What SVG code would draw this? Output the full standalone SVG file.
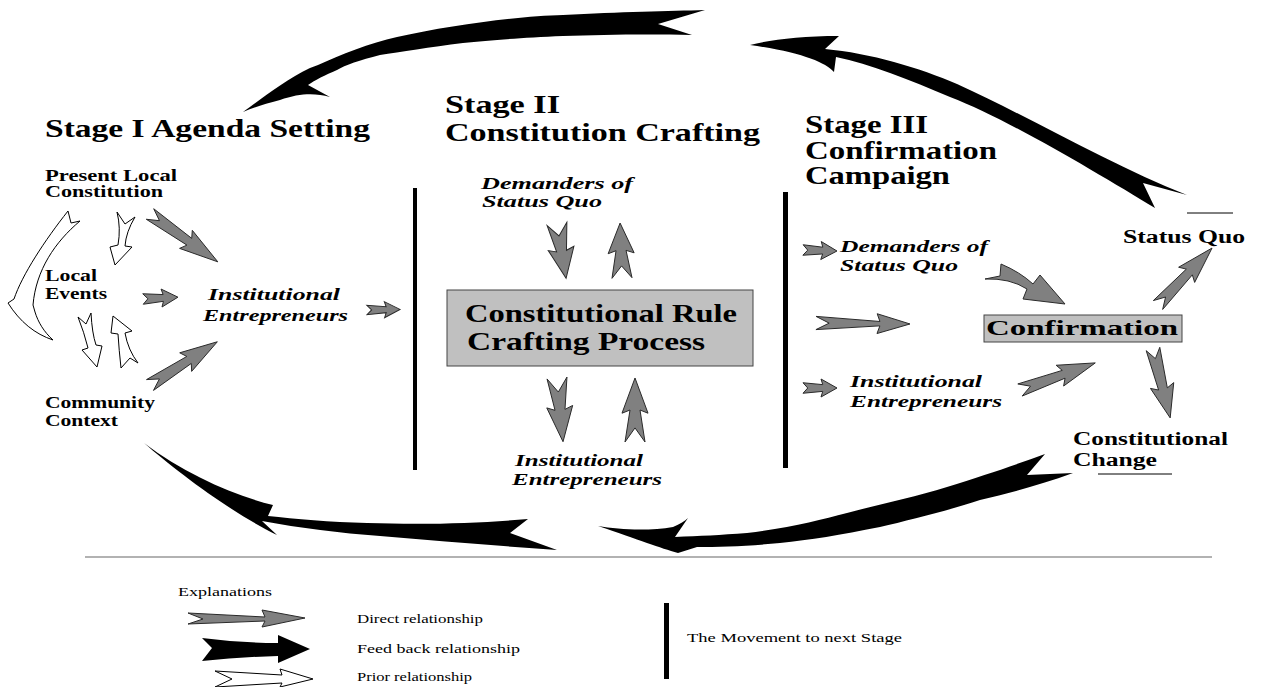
<svg xmlns="http://www.w3.org/2000/svg" xmlns:xlink="http://www.w3.org/1999/xlink" width="1264" height="687" viewBox="0 0 1264 687">
  <style>
    .bold { font-family: "Liberation Serif", "Times New Roman", serif; font-weight: bold; fill: #000; }
    .ital { font-family: "Liberation Serif", "Times New Roman", serif; font-weight: bold; font-style: italic; fill: #000; }
    .reg  { font-family: "Liberation Serif", "Times New Roman", serif; fill: #000; }
    .direct { fill: #808080; stroke: #2a2a2a; stroke-width: 1; stroke-linejoin: miter; }
    .prior { fill: #fff; stroke: #000; stroke-width: 1; }
    .feedback { fill: #000; stroke: none; }
    .bar { fill: #000; }
    .box { fill: #c0c0c0; stroke: #444; stroke-width: 1; }
  </style>
  <defs>
    <!-- direct relationship arrow, tail at x=0, tip at x=100 -->
    <path id="ga" class="direct" vector-effect="non-scaling-stroke" d="M0,-7 L14,0 L0,7 L58,4.5 L53,12 L100,0 L53,-12 L58,-4.5 Z"/>
    <!-- short stubby variant with a wide tail -->
    <path id="gb" class="direct" vector-effect="non-scaling-stroke" d="M0,-10 L22,0 L0,10 L50,5 L45,13 L100,0 L45,-13 L50,-5 Z"/>
    <!-- long thin variant -->
    <path id="gl" class="direct" vector-effect="non-scaling-stroke" d="M0,-6 L14,0 L0,6 L68,2 L65,9 L100,0 L65,-9 L68,-2 Z"/>
  </defs>

  <rect width="1264" height="687" fill="#fff"/>

  <!-- stage headings -->
  <g id="stage1">
    <text class="bold" font-size="25" x="45" y="137" textLength="325" lengthAdjust="spacingAndGlyphs">Stage I Agenda Setting</text>
  </g>
  <g id="stage2">
    <text class="bold" font-size="25" x="445" y="113" textLength="115" lengthAdjust="spacingAndGlyphs">Stage II</text>
    <text class="bold" font-size="25" x="445" y="141" textLength="315" lengthAdjust="spacingAndGlyphs">Constitution Crafting</text>
  </g>
  <g id="stage3">
    <text class="bold" font-size="25" x="805" y="133" textLength="123" lengthAdjust="spacingAndGlyphs">Stage III</text>
    <text class="bold" font-size="25" x="805" y="159" textLength="192" lengthAdjust="spacingAndGlyphs">Confirmation</text>
    <text class="bold" font-size="25" x="805" y="184" textLength="145" lengthAdjust="spacingAndGlyphs">Campaign</text>
  </g>

  <!-- Stage I nodes -->
  <g id="present-local-constitution">
    <text class="bold" font-size="16" x="45" y="181" textLength="132" lengthAdjust="spacingAndGlyphs">Present Local</text>
    <text class="bold" font-size="16" x="45" y="197" textLength="118" lengthAdjust="spacingAndGlyphs">Constitution</text>
  </g>
  <g id="local-events">
    <text class="bold" font-size="16" x="45" y="281" textLength="52" lengthAdjust="spacingAndGlyphs">Local</text>
    <text class="bold" font-size="16" x="45" y="299" textLength="62" lengthAdjust="spacingAndGlyphs">Events</text>
  </g>
  <g id="community-context">
    <text class="bold" font-size="16" x="45" y="408" textLength="110" lengthAdjust="spacingAndGlyphs">Community</text>
    <text class="bold" font-size="16" x="45" y="426" textLength="73" lengthAdjust="spacingAndGlyphs">Context</text>
  </g>
  <g id="entrepreneurs-1">
    <text class="ital" font-size="17" x="208" y="300" textLength="132" lengthAdjust="spacingAndGlyphs">Institutional</text>
    <text class="ital" font-size="17" x="203" y="321" textLength="145" lengthAdjust="spacingAndGlyphs">Entrepreneurs</text>
  </g>

  <!-- Stage II nodes -->
  <g id="demanders-2">
    <text class="ital" font-size="17" x="481" y="189" textLength="152" lengthAdjust="spacingAndGlyphs">Demanders of</text>
    <text class="ital" font-size="17" x="482" y="207" textLength="120" lengthAdjust="spacingAndGlyphs">Status Quo</text>
  </g>
  <g id="rule-crafting">
    <rect class="box" x="447" y="290" width="306" height="76"/>
    <text class="bold" font-size="26" x="465" y="322" textLength="272" lengthAdjust="spacingAndGlyphs">Constitutional Rule</text>
    <text class="bold" font-size="26" x="467" y="350" textLength="238" lengthAdjust="spacingAndGlyphs">Crafting Process</text>
  </g>
  <g id="entrepreneurs-2">
    <text class="ital" font-size="17" x="515" y="466" textLength="128" lengthAdjust="spacingAndGlyphs">Institutional</text>
    <text class="ital" font-size="17" x="512" y="485" textLength="150" lengthAdjust="spacingAndGlyphs">Entrepreneurs</text>
  </g>

  <!-- Stage III nodes -->
  <g id="demanders-3">
    <text class="ital" font-size="17" x="840" y="252" textLength="148" lengthAdjust="spacingAndGlyphs">Demanders of</text>
    <text class="ital" font-size="17" x="840" y="271" textLength="118" lengthAdjust="spacingAndGlyphs">Status Quo</text>
  </g>
  <g id="entrepreneurs-3">
    <text class="ital" font-size="17" x="850" y="387" textLength="132" lengthAdjust="spacingAndGlyphs">Institutional</text>
    <text class="ital" font-size="17" x="850" y="407" textLength="152" lengthAdjust="spacingAndGlyphs">Entrepreneurs</text>
  </g>
  <g id="confirmation">
    <rect class="box" x="984" y="315" width="198" height="27" stroke="#222" stroke-width="1.5"/>
    <text class="bold" font-size="20" x="986" y="335" textLength="192" lengthAdjust="spacingAndGlyphs">Confirmation</text>
  </g>
  <g id="status-quo">
    <line x1="1187" y1="213" x2="1233" y2="213" stroke="#000" stroke-width="1"/>
    <text class="bold" font-size="18" x="1123" y="243" textLength="122" lengthAdjust="spacingAndGlyphs">Status Quo</text>
  </g>
  <g id="constitutional-change">
    <text class="bold" font-size="18" x="1073" y="445" textLength="155" lengthAdjust="spacingAndGlyphs">Constitutional</text>
    <text class="bold" font-size="18" x="1073" y="466" textLength="84" lengthAdjust="spacingAndGlyphs">Change</text>
    <line x1="1098" y1="474" x2="1172" y2="474" stroke="#000" stroke-width="1"/>
  </g>

  <!-- stage boundaries -->
  <g id="stage-bars">
    <rect class="bar" x="413" y="188" width="4" height="282"/>
    <rect class="bar" x="783" y="192" width="5" height="276"/>
  </g>

  <g id="connectors">
    <!-- prior relationships -->
    <path class="prior" d="M68,211 C45,240 22,275 14,299 L8,303 C20,322 35,334 53,340 C44,332 38,322 35,312 L33,305 C36,270 55,242 80,221 L71,223 Z"/>
    <path class="prior" d="M117,212 L125,224 L135,217 Q126,232 125,246 L132,247 L115,265 L110,247 L118,245 Q121,228 117,212 Z"/>
    <path class="prior" d="M78,317 L86,324 L91,313 Q92,333 96,345 L102,346 L97,367 L82,350 L88,348 Q84,332 78,317 Z"/>
    <path class="prior" d="M113,316 L132,331 L125,333 Q128,350 138,363 L130,358 L121,368 Q119,350 118,334 L111,333 Z"/>

    <!-- direct relationships, Stage I -->
    <use href="#ga" transform="translate(150,214) rotate(35.2) scale(0.83,0.92)"/>
    <use href="#ga" transform="translate(143,299) rotate(-3) scale(0.35,0.75)"/>
    <use href="#ga" transform="translate(150,385) rotate(-32.7) scale(0.80,0.92)"/>
    <use href="#ga" transform="translate(367,310) rotate(-1) scale(0.33,0.67)"/>

    <!-- direct relationships, Stage II -->
    <use href="#gb" transform="translate(557,224) rotate(80.5) scale(0.55,1)"/>
    <use href="#gb" transform="translate(622,278) rotate(-92) scale(0.55,1)"/>
    <use href="#gb" transform="translate(557,378) rotate(84.6) scale(0.64,1)"/>
    <use href="#gb" transform="translate(635,442) rotate(-90) scale(0.64,1)"/>

    <!-- direct relationships, Stage III -->
    <use href="#ga" transform="translate(803,250) rotate(1.7) scale(0.34,0.75)"/>
    <use href="#gl" transform="translate(816,323) rotate(0.6) scale(0.94,1.1)"/>
    <use href="#ga" transform="translate(803,388) scale(0.34,0.75)"/>
    <path class="direct" d="M985,279 Q1010,278 1027,289 L1023,299 L1065,304 L1040,275 L1033,284 Q1020,272 1001,264 L1000,276 Z"/>
    <use href="#ga" transform="translate(1020,390) rotate(-19.8) scale(0.80,0.92)"/>
    <use href="#ga" transform="translate(1158,305) rotate(-46.5) scale(0.785,0.92)"/>
    <use href="#ga" transform="translate(1153,349) rotate(76) scale(0.71,1)"/>

    <!-- feedback relationships -->
    <path class="feedback" d="M243,112 C260,100 285,80 310,68 L318,65 C340,55 370,43 397,37 C450,25 520,16 563,15 C620,12 670,11 705,10 L658,24 L692,35 C640,34 600,35 563,36 C520,38 490,40 463,43 C430,47 400,52 380,55 C360,60 345,65 337,70 C325,75 315,80 308,85 L330,97 C315,93 300,93 280,100 C265,104 255,107 243,112 Z"/>
    <path class="feedback" d="M750,45 C770,40 800,36 839,36 L825,49 C870,53 920,68 957,84 C1030,117 1110,165 1187,195 L1143,183 L1155,208 C1100,175 1010,120 950,97 C910,80 870,64 836,57 L834,72 C825,62 800,52 750,45 Z"/>
    <path class="feedback" d="M144,443 C175,470 230,512 277,535 L262,521 C300,528 340,533 380,536 C440,541 500,546 557,550 L510,533 L528,519 C480,523 430,525 367,523 C330,522 295,519 268,516 L273,505 C235,496 185,474 144,443 Z"/>
    <path class="feedback" d="M598,526 C620,530 650,531 673,527 C680,524 685,521 688,518 L675,537 C700,536 720,535 747,533 C790,528 820,520 847,513 C880,504 915,497 947,487 C985,475 1015,465 1045,454 L1027,475 L1073,473 C1040,485 1010,493 980,500 C950,510 910,520 880,527 C840,535 810,540 780,543 C750,546 720,547 697,547 L678,553 C660,548 640,540 598,526 Z"/>
  </g>

  <!-- separator between diagram and legend -->
  <line x1="85" y1="557" x2="1212" y2="557" stroke="#999" stroke-width="1.5"/>

  <g id="legend">
    <text class="reg" font-size="12" x="178" y="596" textLength="94" lengthAdjust="spacingAndGlyphs">Explanations</text>
    <path class="direct" d="M188,613 L265,617 L262,610 L305,618 L262,627 L265,621 L188,624 L203,619 Z"/>
    <text class="reg" font-size="12" x="357" y="623" textLength="126" lengthAdjust="spacingAndGlyphs">Direct relationship</text>
    <path class="feedback" d="M202,638 Q240,643 278,643 L278,635 L310,649 L278,663 L278,656 Q240,657 202,661 L212,648 Z"/>
    <text class="reg" font-size="12" x="357" y="653" textLength="163" lengthAdjust="spacingAndGlyphs">Feed back relationship</text>
    <path class="prior" d="M215,671 L282,675 L280,669 L313,679 L280,687 L282,683 L215,687 L232,679 Z"/>
    <text class="reg" font-size="12" x="357" y="681" textLength="115" lengthAdjust="spacingAndGlyphs">Prior relationship</text>
    <rect class="bar" x="664" y="603" width="5" height="76"/>
    <text class="reg" font-size="12" x="687" y="642" textLength="215" lengthAdjust="spacingAndGlyphs">The Movement to next Stage</text>
  </g>
</svg>
